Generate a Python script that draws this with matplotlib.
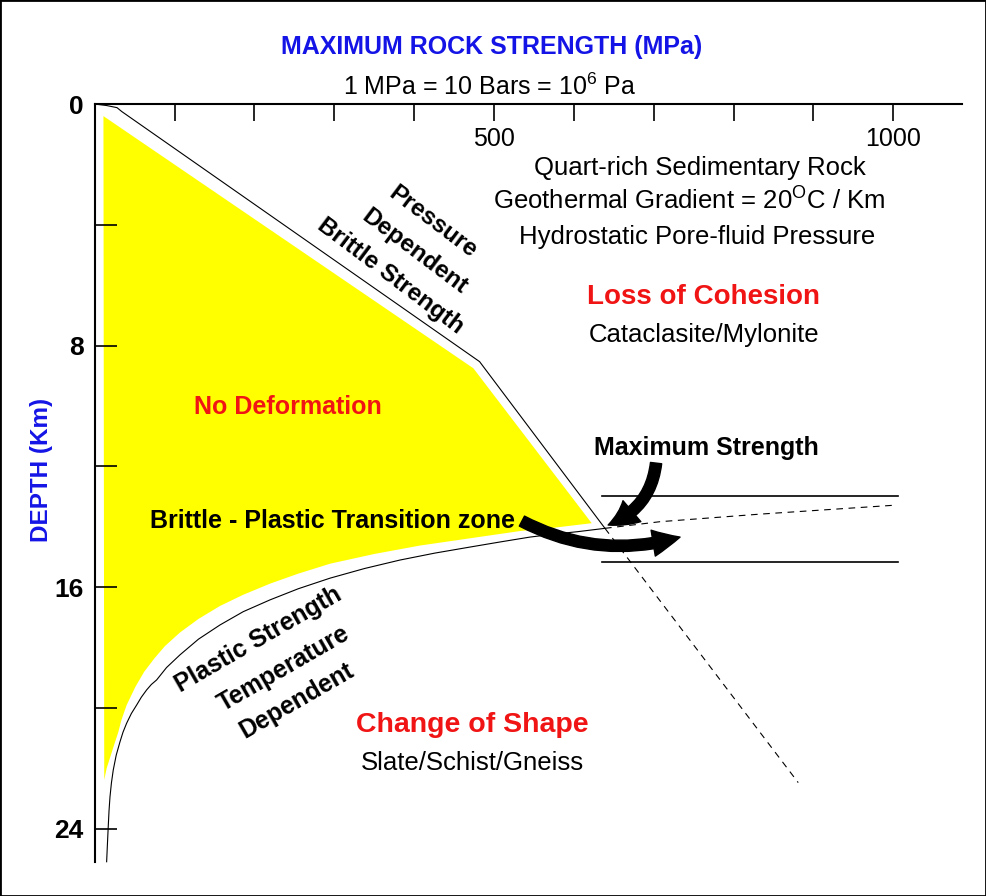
import numpy as np
import matplotlib.pyplot as plt
import matplotlib
from matplotlib.patches import Polygon, FancyArrowPatch, Rectangle

matplotlib.rcParams['font.family'] = 'Liberation Sans'
matplotlib.rcParams['mathtext.fontset'] = 'custom'
matplotlib.rcParams['mathtext.rm'] = 'Liberation Sans'
matplotlib.rcParams['mathtext.bf'] = 'Liberation Sans:bold'

# Dati (MPa, km)

# inviluppo di resistenza fragile (dipendente dalla pressione)
brittle_mpa = [0, 15, 28, 34, 482, 639]
brittle_km = [0.0, 0.05, 0.12, 0.25, 8.53, 14.05]
# prolungamento tratteggiato
brittle_ext_mpa = [639, 881]
brittle_ext_km = [14.05, 22.47]

# resistenza plastica (dipendente dalla temperatura)
plastic_mpa = [15, 16, 17, 18, 19.2, 21, 23.3, 27, 31.7, 35.5, 40.1, 46, 52.6,
               58.5, 65.1, 71, 77.6, 90, 106.8, 130, 156.9, 186, 219.5, 255,
               294.7, 338, 382.3, 426, 470, 508, 545, 576, 605, 639]
plastic_km = [25.09, 24.5, 23.93, 23.4, 22.94, 22.48, 22.05, 21.56, 21.12, 20.8,
              20.5, 20.18, 19.9, 19.64, 19.4, 19.22, 19.07, 18.66, 18.24, 17.72,
              17.25, 16.81, 16.42, 16.05, 15.7, 15.38, 15.1, 14.87, 14.67, 14.5,
              14.34, 14.24, 14.16, 14.05]
plastic_ext_mpa = [639, 708, 833, 1004]
plastic_ext_km = [14.05, 13.83, 13.58, 13.28]

# campo senza deformazione
nodef_mpa = [11, 474.2, 622.4, 575, 532.6, 470, 407.4, 350, 295, 255, 219.8,
             186, 157, 130, 106.8, 88, 75, 62, 51, 40.1, 33.5, 29.6, 24, 19.2,
             15, 12.0]
nodef_km = [0.40, 8.75, 13.88, 14.03, 14.14, 14.38, 14.62, 14.9, 15.22, 15.55,
            15.88, 16.25, 16.62, 17.05, 17.5, 17.95, 18.35, 18.8, 19.3, 19.9,
            20.4, 20.8, 21.25, 21.65, 22.0, 22.38]

# zona di transizione
trans_mpa = [635, 1006]
trans_top_km = 12.98
trans_bot_km = 15.18

x_ticks = np.arange(0, 1001, 100)
x_ticklabels = ['' if t not in (500, 1000) else str(t) for t in x_ticks]
y_ticks = np.arange(0, 25, 4)
y_ticklabels = [str(t) if t % 8 == 0 else '' for t in y_ticks]

blue = '#1414e6'
red = '#f01414'

# Plot

fig = plt.figure(figsize=(9.86, 8.96), dpi=100)
ax = fig.add_axes([0.0960, 0.0379, 0.8796, 0.8460])
ax.spines['right'].set_visible(False)
ax.spines['bottom'].set_visible(False)
ax.spines['top'].set_linewidth(1.5)
ax.spines['left'].set_linewidth(1.5)

ax.set_xlim([0, 1086])
ax.set_ylim([25.1, 0])

ax.xaxis.tick_top()
ax.set_xticks(x_ticks)
ax.set_xticklabels(x_ticklabels)
ax.tick_params(axis='x', direction='in', length=12, width=1.2, pad=-34,
               labelsize=18)
ax.set_yticks(y_ticks)
ax.set_yticklabels(y_ticklabels, fontweight='bold')
ax.tick_params(axis='y', direction='in', length=16, width=1.2, pad=8,
               labelsize=19)

ax.add_patch(Polygon(np.column_stack([nodef_mpa, nodef_km]), closed=True,
                     facecolor='#ffff00', edgecolor='none'))

ax.plot(brittle_mpa, brittle_km, 'k', linewidth=0.8)
ax.plot(brittle_ext_mpa, brittle_ext_km, 'k', linestyle=(0, (6, 5)), linewidth=0.8)
ax.plot(plastic_mpa, plastic_km, 'k', linewidth=0.8, clip_on=False)
ax.plot(plastic_ext_mpa, plastic_ext_km, 'k', linestyle=(0, (6, 5)), linewidth=0.8)
ax.plot(trans_mpa, [trans_top_km] * 2, 'k', linewidth=1.2)
ax.plot(trans_mpa, [trans_bot_km] * 2, 'k', linewidth=1.2)

# frecce
ax.add_patch(FancyArrowPatch((703, 11.89), (643, 13.94), connectionstyle='arc3,rad=-0.3',
                             arrowstyle='simple,head_length=1.1,head_width=1.1,tail_width=0.45',
                             mutation_scale=18, color='k', shrinkA=0, shrinkB=0))
ax.add_patch(FancyArrowPatch((535, 13.81), (733, 14.34), connectionstyle='arc3,rad=0.2',
                             arrowstyle='simple,head_length=1.1,head_width=1.05,tail_width=0.45',
                             mutation_scale=18, color='k', shrinkA=0, shrinkB=0))

# testi
kw = dict(ha='center', va='center', clip_on=False)
ax.text(497, -1.89, 'MAXIMUM ROCK STRENGTH (MPa)', color=blue, fontsize=18,
        fontweight='bold', **kw)
ax.text(495, -0.56, '1 MPa = 10 Bars = 10$^{6}$ Pa', fontsize=18, **kw)
ax.text(-66, 12.12, 'DEPTH (Km)', color=blue, fontsize=17.5, fontweight='bold',
        rotation=90, **kw)

ax.text(758, 2.12, 'Quart-rich Sedimentary Rock', fontsize=18.5, **kw)
ax.text(745, 3.15, 'Geothermal Gradient = 20$^{\\mathrm{O}}$C / Km', fontsize=18.5, **kw)
ax.text(754, 4.40, 'Hydrostatic Pore-fluid Pressure', fontsize=18.5, **kw)
ax.text(763, 6.39, 'Loss of Cohesion', color=red, fontsize=20, fontweight='bold', **kw)
ax.text(763, 7.65, 'Cataclasite/Mylonite', fontsize=18.5, **kw)
ax.text(242, 10.03, 'No Deformation', color=red, fontsize=18, fontweight='bold', **kw)
ax.text(766, 11.39, 'Maximum Strength', fontsize=18, fontweight='bold', **kw)
ax.text(298, 13.81, 'Brittle - Plastic Transition zone', fontsize=18,
        fontweight='bold', **kw)

ax.text(424, 3.91, 'Pressure', fontsize=17.5, fontweight='bold', rotation=-37, **kw)
ax.text(401, 4.90, 'Dependent', fontsize=17.5, fontweight='bold', rotation=-37, **kw)
ax.text(370, 5.70, 'Brittle Strength', fontsize=17.5, fontweight='bold', rotation=-37, **kw)

ax.text(205, 17.75, 'Plastic Strength', fontsize=17.8, fontweight='bold', rotation=30, **kw)
ax.text(237, 18.68, 'Temperature', fontsize=17.8, fontweight='bold', rotation=30, **kw)
ax.text(253, 19.74, 'Dependent', fontsize=17.8, fontweight='bold', rotation=30, **kw)

ax.text(473, 20.56, 'Change of Shape', color=red, fontsize=20.5, fontweight='bold', **kw)
ax.text(473, 21.82, 'Slate/Schist/Gneiss', fontsize=18.5, **kw)

fig.patches.append(Rectangle((0, 0), 1, 1, transform=fig.transFigure, fill=False,
                             edgecolor='k', linewidth=2))

plt.savefig('out.png', dpi=100)
